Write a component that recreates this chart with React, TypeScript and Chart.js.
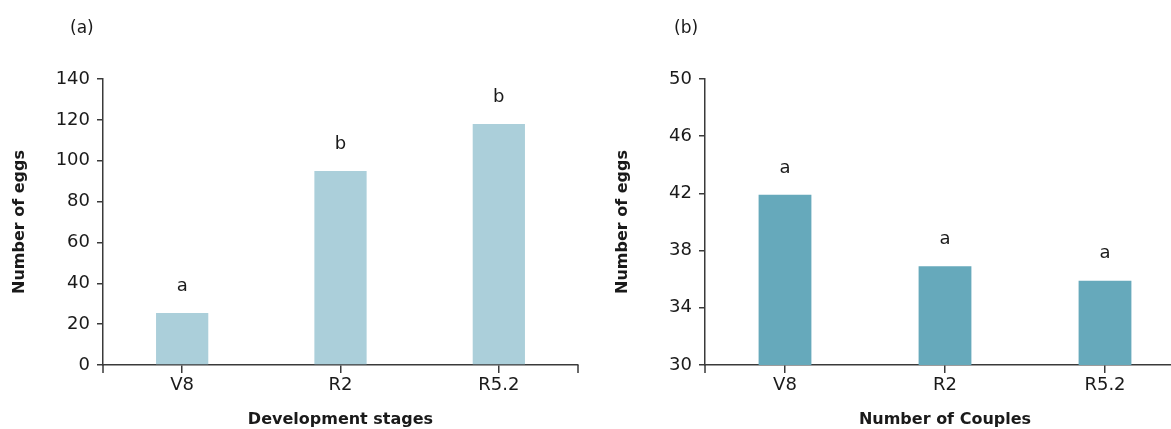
import React, { useEffect, useRef } from "react";
import { Chart, registerables } from "chart.js";

Chart.register(...registerables);

const stages = ["V8", "R2", "R5.2"];
const eggsA = [25.5, 95, 118];
const lettersA = ["a", "b", "b"];
const eggsB = [41.9, 36.9, 35.9];
const lettersB = ["a", "a", "a"];
const ticksA = { min: 0, max: 140, step: 20 };
const ticksB = { min: 30, max: 50, step: 4 };

const FONT = "'DejaVu Sans', sans-serif";
const INK = "#1a1a1a";
const AXIS = "#3a3a3a";

function makeConfig(
  values: number[],
  letters: string[],
  color: string,
  range: { min: number; max: number; step: number },
  xTitle: string,
  yWidth: number,
  padRight: number,
  yTitlePad: number
): any {
  const lettersPlugin = {
    id: "letters",
    afterDatasetsDraw(chart: any) {
      const ctx = chart.ctx;
      const meta = chart.getDatasetMeta(0);
      ctx.save();
      ctx.font = `18px ${FONT}`;
      ctx.fillStyle = INK;
      ctx.textAlign = "center";
      ctx.textBaseline = "middle";
      meta.data.forEach((bar: any, i: number) => {
        ctx.fillText(letters[i], bar.x, bar.y - 27);
      });
      // axis end ticks
      const { left, right, bottom } = chart.chartArea;
      ctx.strokeStyle = AXIS;
      ctx.lineWidth = 1.5;
      ctx.beginPath();
      ctx.moveTo(left, bottom);
      ctx.lineTo(left, bottom + 8);
      ctx.moveTo(right, bottom);
      ctx.lineTo(right, bottom + 8);
      ctx.stroke();
      ctx.restore();
    },
  };
  return {
    type: "bar",
    data: {
      labels: stages,
      datasets: [
        {
          data: values,
          backgroundColor: color,
          borderWidth: 0,
          barPercentage: 0.33,
          categoryPercentage: 1,
        },
      ],
    },
    options: {
      animation: false,
      responsive: false,
      maintainAspectRatio: false,
      devicePixelRatio: 1,
      layout: { padding: { top: 79, right: padRight, bottom: 0, left: 0 } },
      plugins: { legend: { display: false }, tooltip: { enabled: false } },
      scales: {
        x: {
          offset: true,
          grid: {
            offset: false,
            drawOnChartArea: false,
            drawTicks: true,
            tickLength: 8,
            color: AXIS,
            lineWidth: 1.5,
          },
          border: { display: true, color: AXIS, width: 1.5 },
          ticks: { color: INK, font: { family: FONT, size: 18 }, padding: 2 },
          title: {
            display: true,
            text: xTitle,
            color: INK,
            font: { family: FONT, size: 16, weight: "bold" },
            padding: { top: 0, bottom: 0 },
          },
          afterFit(scale: any) {
            scale.height = 64;
          },
        },
        y: {
          min: range.min,
          max: range.max,
          grid: {
            drawOnChartArea: false,
            drawTicks: true,
            tickLength: 6,
            color: AXIS,
            lineWidth: 1.5,
          },
          border: { display: true, color: AXIS, width: 1.5 },
          ticks: {
            stepSize: range.step,
            color: INK,
            font: { family: FONT, size: 18 },
            padding: 7,
          },
          title: {
            display: true,
            text: "Number of eggs",
            color: INK,
            font: { family: FONT, size: 16, weight: "bold" },
            padding: { top: yTitlePad, bottom: 0 },
          },
          afterFit(scale: any) {
            scale.width = yWidth;
          },
        },
      },
    },
    plugins: [lettersPlugin],
  };
}

function Panel(props: {
  left: number;
  width: number;
  values: number[];
  letters: string[];
  color: string;
  range: { min: number; max: number; step: number };
  xTitle: string;
  yWidth: number;
  padRight: number;
  yTitlePad: number;
}) {
  const ref = useRef<HTMLCanvasElement | null>(null);
  useEffect(() => {
    if (!ref.current) return;
    const chart = new Chart(
      ref.current,
      makeConfig(
        props.values,
        props.letters,
        props.color,
        props.range,
        props.xTitle,
        props.yWidth,
        props.padRight,
        props.yTitlePad
      )
    );
    return () => chart.destroy();
  }, []);
  return (
    <canvas
      ref={ref}
      width={props.width}
      height={429}
      style={{
        position: "absolute",
        left: props.left,
        top: 0,
        width: props.width,
        height: 429,
      }}
    />
  );
}

export default function App() {
  const labelStyle: React.CSSProperties = {
    position: "absolute",
    top: 15,
    fontFamily: FONT,
    fontSize: 17,
    color: INK,
    lineHeight: "24px",
  };
  return (
    <div
      style={{
        position: "absolute",
        left: 0,
        top: 0,
        width: 1171,
        height: 429,
        overflow: "hidden",
        background: "#fff",
      }}
    >
      <Panel
        left={0}
        width={590}
        values={eggsA}
        letters={lettersA}
        color="#abcfda"
        range={ticksA}
        xTitle="Development stages"
        yWidth={103}
        padRight={12}
        yTitlePad={10}
      />
      <Panel
        left={590}
        width={600}
        values={eggsB}
        letters={lettersB}
        color="#66a9bb"
        range={ticksB}
        xTitle="Number of Couples"
        yWidth={115}
        padRight={5}
        yTitlePad={23}
      />
      <div style={{ ...labelStyle, left: 70 }}>(a)</div>
      <div style={{ ...labelStyle, left: 674 }}>(b)</div>
    </div>
  );
}
